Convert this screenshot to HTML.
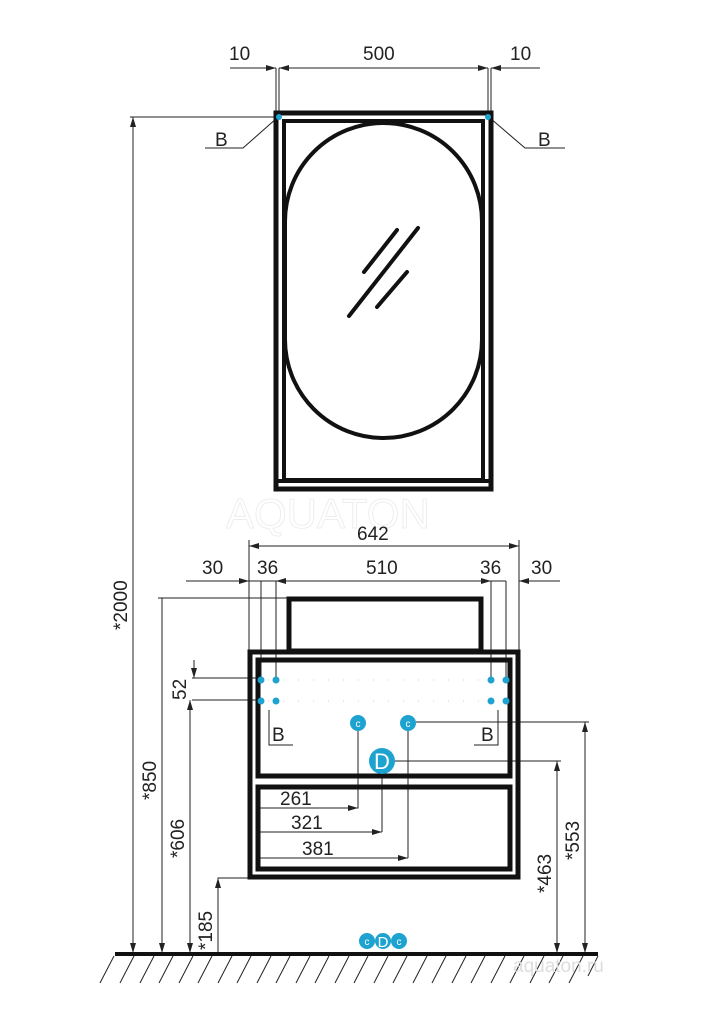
<!DOCTYPE html>
<html><head><meta charset="utf-8"><style>
html,body{margin:0;padding:0;background:#fff}
svg{display:block}
text{font-family:"Liberation Sans","DejaVu Sans",sans-serif;fill:#222}
</style></head><body>
<svg width="723" height="1023" viewBox="0 0 723 1023" xmlns="http://www.w3.org/2000/svg">
<defs>
<marker id="a" markerWidth="10" markerHeight="6" refX="10" refY="3" orient="auto-start-reverse" markerUnits="userSpaceOnUse"><path d="M0,0 L10,3 L0,6 z" fill="#222"/></marker>
</defs>
<g stroke="#222" stroke-width="1" fill="none">
<line x1="230" y1="68" x2="276" y2="68" marker-end="url(#a)"/>
<line x1="279" y1="68" x2="488" y2="68" marker-start="url(#a)" marker-end="url(#a)"/>
<line x1="491" y1="68" x2="540" y2="68" marker-start="url(#a)"/>
<line x1="276" y1="68" x2="276" y2="112"/><line x1="279" y1="68" x2="279" y2="112"/>
<line x1="488" y1="68" x2="488" y2="112"/><line x1="491" y1="68" x2="491" y2="112"/>
<line x1="130" y1="117" x2="276" y2="117"/>
<line x1="133" y1="117" x2="133" y2="953" marker-start="url(#a)" marker-end="url(#a)"/>
<polyline points="205,148 243,148 277,118"/>
<polyline points="565,148 525,148 490,118"/>
</g>
<g stroke="#111" fill="none">
<rect x="276" y="113" width="215" height="376" stroke-width="5"/>
<rect x="284" y="121" width="199" height="359" stroke-width="4"/>
<line x1="276" y1="481" x2="491" y2="481" stroke-width="4"/>
<rect x="285" y="123" width="197" height="315" rx="98.5" ry="98.5" stroke-width="4"/>
<line x1="349" y1="316" x2="418" y2="228" stroke-width="4" stroke-linecap="round"/>
<line x1="364" y1="272" x2="397" y2="230" stroke-width="4" stroke-linecap="round"/>
<line x1="377" y1="307" x2="407" y2="272" stroke-width="4" stroke-linecap="round"/>
</g>
<circle cx="279" cy="117" r="3" fill="#1ea3d1"/><circle cx="488" cy="117" r="3" fill="#1ea3d1"/>
<text x="229" y="60" font-size="19">10</text><text x="363" y="60" font-size="19">500</text><text x="510" y="60" font-size="19">10</text>
<text x="215" y="146" font-size="19">B</text><text x="538" y="146" font-size="19">B</text>
<text x="0" y="0" font-size="19" transform="translate(127,630) rotate(-90)">*2000</text>
<text x="226" y="528" font-size="42" stroke="#eee" stroke-width="1" style="fill:none">AQUATON</text>

<g stroke="#222" stroke-width="1" fill="none">
<line x1="249" y1="546" x2="519" y2="546" marker-start="url(#a)" marker-end="url(#a)"/>
<line x1="249" y1="540" x2="249" y2="651"/><line x1="519" y1="540" x2="519" y2="651"/>
<line x1="186" y1="581" x2="249" y2="581" marker-end="url(#a)"/>
<line x1="249" y1="581" x2="261" y2="581"/>
<line x1="261" y1="581" x2="276" y2="581"/>
<line x1="276" y1="581" x2="491" y2="581" marker-start="url(#a)" marker-end="url(#a)"/>
<line x1="491" y1="581" x2="506" y2="581"/>
<line x1="519" y1="581" x2="560" y2="581" marker-start="url(#a)"/>
<line x1="261" y1="581" x2="261" y2="680"/><line x1="276" y1="581" x2="276" y2="680"/>
<line x1="491" y1="581" x2="491" y2="680"/><line x1="506" y1="581" x2="506" y2="680"/>
<line x1="158" y1="598" x2="287" y2="598"/>
<line x1="162" y1="598" x2="162" y2="953" marker-end="url(#a)"/>
<line x1="192" y1="678" x2="261" y2="678"/><line x1="192" y1="700" x2="261" y2="700"/>
<line x1="194" y1="660" x2="194" y2="678" marker-end="url(#a)"/>
<line x1="190" y1="700" x2="190" y2="953" marker-start="url(#a)" marker-end="url(#a)"/>
<polyline points="218,953 218,878 249,878"/>
<line x1="218" y1="878" x2="218" y2="953" marker-start="url(#a)"/>
<polyline points="269,710 269,745 293,745"/>
<polyline points="498,710 498,745 474,745"/>
<polyline points="358,730 358,808 258,808"/>
<line x1="258" y1="808" x2="358" y2="808" marker-end="url(#a)"/>
<polyline points="382,771 382,832"/>
<line x1="258" y1="832" x2="382" y2="832" marker-end="url(#a)"/>
<polyline points="408,730 408,858"/>
<line x1="258" y1="858" x2="408" y2="858" marker-end="url(#a)"/>
<line x1="416" y1="722" x2="589" y2="722"/>
<line x1="394" y1="761" x2="561" y2="761"/>
<line x1="557" y1="761" x2="557" y2="953" marker-start="url(#a)" marker-end="url(#a)"/>
<line x1="585" y1="722" x2="585" y2="953" marker-start="url(#a)" marker-end="url(#a)"/>
</g>
<g stroke="#ccc" stroke-width="1" stroke-dasharray="1 14">
<line x1="268" y1="680" x2="500" y2="680"/><line x1="268" y1="701" x2="500" y2="701"/>
</g>
<g stroke="#111" fill="none" stroke-width="5">
<rect x="289" y="599" width="192" height="52"/>
<rect x="250" y="652" width="268" height="225"/>
<rect x="258" y="660" width="252" height="116"/>
<rect x="258" y="787" width="252" height="82"/>
</g>
<g fill="#1ea3d1">
<circle cx="261" cy="680" r="3.5"/><circle cx="276" cy="680" r="3.5"/><circle cx="491" cy="680" r="3.5"/><circle cx="506" cy="680" r="3.5"/>
<circle cx="261" cy="701" r="3.5"/><circle cx="276" cy="701" r="3.5"/><circle cx="491" cy="701" r="3.5"/><circle cx="506" cy="701" r="3.5"/>
<circle cx="358" cy="723" r="8"/><circle cx="408" cy="723" r="8"/><circle cx="382" cy="761" r="13"/>
<circle cx="367" cy="941" r="8"/><circle cx="383" cy="941" r="8"/><circle cx="399" cy="941" r="8"/>
</g>
<g font-size="10" text-anchor="middle">
<text x="358" y="727" style="fill:#fff">c</text><text x="408" y="727" style="fill:#fff">c</text>
<text x="382" y="769" font-size="22" style="fill:#fff">D</text>
<text x="367" y="945" style="fill:#fff">c</text><text x="383" y="947" font-size="15" style="fill:#fff">D</text><text x="399" y="945" style="fill:#fff">c</text>
</g>
<g font-size="19">
<text x="357" y="540">642</text>
<text x="202" y="574">30</text><text x="257" y="574">36</text><text x="366" y="574">510</text><text x="480" y="574">36</text><text x="531" y="574">30</text>
<text x="272" y="741">B</text><text x="481" y="741">B</text>
<text x="280" y="805">261</text><text x="291" y="829">321</text><text x="302" y="855">381</text>
<text transform="translate(186,700) rotate(-90)">52</text>
<text transform="translate(156,800) rotate(-90)">*850</text>
<text transform="translate(184,858) rotate(-90)">*606</text>
<text transform="translate(212,950) rotate(-90)">*185</text>
<text transform="translate(551,893) rotate(-90)">*463</text>
<text transform="translate(579,860) rotate(-90)">*553</text>
</g>
<line x1="115" y1="954" x2="598" y2="954" stroke="#111" stroke-width="4"/>
<g stroke="#222" stroke-width="1">
<line x1="114" y1="956" x2="100" y2="983"/><line x1="134" y1="956" x2="120" y2="983"/><line x1="154" y1="956" x2="140" y2="983"/><line x1="173" y1="956" x2="159" y2="983"/><line x1="193" y1="956" x2="179" y2="983"/><line x1="212" y1="956" x2="198" y2="983"/><line x1="232" y1="956" x2="218" y2="983"/><line x1="251" y1="956" x2="237" y2="983"/><line x1="271" y1="956" x2="257" y2="983"/><line x1="290" y1="956" x2="276" y2="983"/><line x1="310" y1="956" x2="296" y2="983"/><line x1="329" y1="956" x2="315" y2="983"/><line x1="349" y1="956" x2="335" y2="983"/><line x1="368" y1="956" x2="354" y2="983"/><line x1="388" y1="956" x2="374" y2="983"/><line x1="407" y1="956" x2="393" y2="983"/><line x1="427" y1="956" x2="413" y2="983"/><line x1="446" y1="956" x2="432" y2="983"/><line x1="466" y1="956" x2="452" y2="983"/><line x1="485" y1="956" x2="471" y2="983"/><line x1="505" y1="956" x2="491" y2="983"/><line x1="524" y1="956" x2="510" y2="983"/><line x1="544" y1="956" x2="530" y2="983"/><line x1="563" y1="956" x2="549" y2="983"/><line x1="583" y1="956" x2="569" y2="983"/><line x1="598" y1="956" x2="588" y2="976"/>
</g>
<text x="513" y="972" font-size="19" style="fill:#ddd">aquaton.ru</text>
</svg>
</body></html>
